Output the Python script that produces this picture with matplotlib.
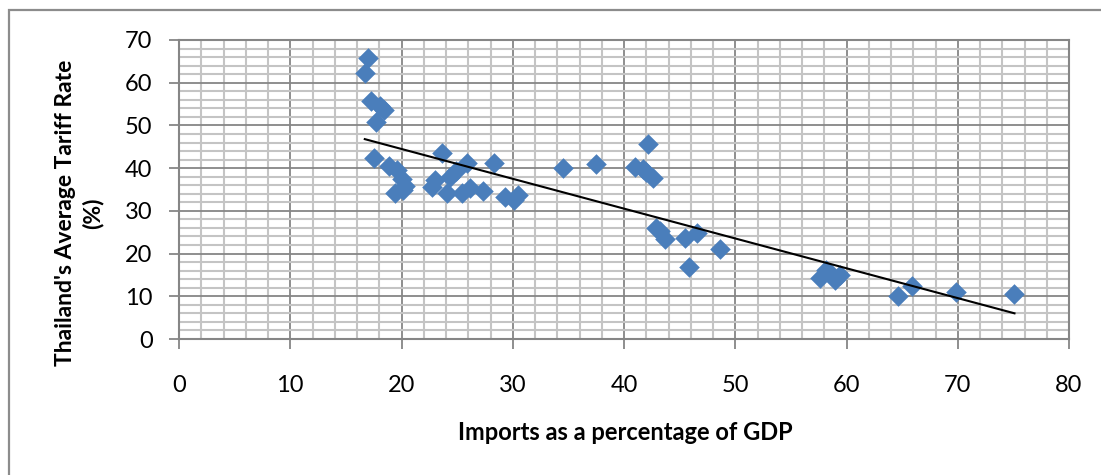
import numpy as np
import matplotlib
matplotlib.use("Agg")
from matplotlib import pyplot as plt
from matplotlib.patches import Rectangle

# imports as % of GDP vs Thailand's average tariff rate
imports_pct = [17.0, 16.7, 17.3, 18.1, 18.4, 17.7, 17.5, 18.9, 19.6, 20.0,
               20.3, 19.4, 20.1, 23.6, 23.0, 22.7, 24.1, 24.4, 24.9, 25.4,
               25.9, 26.2, 27.3, 28.3, 29.3, 30.1, 30.5, 34.5, 37.5, 41.0,
               41.7, 42.0, 42.2, 42.6, 42.9, 43.2, 43.7, 45.5, 46.6, 48.6,
               45.8, 58.2, 57.6, 58.5, 59.0, 59.4, 64.6, 65.9, 69.8, 75.1]
tariff_rate = [65.7, 62.3, 55.8, 54.6, 53.6, 50.9, 42.4, 40.6, 39.5, 37.5,
               35.8, 34.2, 35.0, 43.5, 37.3, 35.5, 34.2, 38.0, 39.3, 34.2,
               41.2, 35.3, 34.6, 41.1, 33.3, 32.6, 33.6, 40.1, 40.9, 40.2,
               39.8, 39.0, 45.7, 37.8, 26.0, 25.2, 23.5, 23.7, 24.8, 21.1,
               16.9, 16.2, 14.3, 15.5, 13.7, 15.0, 10.1, 12.3, 10.9, 10.6]

x_ticks = [0, 10, 20, 30, 40, 50, 60, 70, 80]
y_ticks = [0, 10, 20, 30, 40, 50, 60, 70]

plt.rcParams['font.family'] = ['Lato', 'DejaVu Sans']

fig = plt.figure(figsize=(11.01, 4.75), dpi=100)
ax = fig.add_axes([179 / 1101, 1 - 339 / 475, 890 / 1101, 299 / 475])

# outer chart frame
fig.patches.append(Rectangle((9 / 1101, -0.2), 2.0, 1.2 - 10 / 475,
                             transform=fig.transFigure, fill=False,
                             edgecolor='#8c8c8c', linewidth=1.6))

major_c = '#868686'
minor_c = '#c4c4c4'

ax.set_xlim(0, 80)
ax.set_ylim(0, 70)
ax.set_xticks(x_ticks)
ax.set_yticks(y_ticks)
ax.set_xticks(np.arange(0, 81, 2), minor=True)
ax.set_yticks(np.arange(0, 71, 2), minor=True)
ax.grid(which='minor', color=minor_c, linewidth=1.5, zorder=0)
ax.grid(which='major', color=major_c, linewidth=1.3, zorder=0)
ax.set_axisbelow(True)

for s in ax.spines.values():
    s.set_color(major_c)
    s.set_linewidth(1.5)

ax.tick_params(which='major', direction='out', length=7, width=1.3,
               color=major_c, labelsize=17)
ax.tick_params(axis='x', which='major', pad=19)
ax.tick_params(axis='y', which='major', pad=12)
ax.tick_params(which='minor', length=0)

ax.scatter(imports_pct, tariff_rate, marker='D', s=110, color='#4a7ebb',
           linewidths=0, zorder=3)

# linear trendline over the data range
slope, inter = np.polyfit(imports_pct, tariff_rate, 1)
xs = np.array([min(imports_pct), max(imports_pct)])
ax.plot(xs, slope * xs + inter, color='black', linewidth=1.5, zorder=4)

fig.text(625 / 1101, 1 - 433 / 475, 'Imports as a percentage of GDP',
         ha='center', va='center', fontsize=17, fontweight='bold')
fig.text(79 / 1101, 1 - 213 / 475, "Thailand's Average Tariff Rate\n(%)",
         ha='center', va='center', rotation=90, fontsize=16.5,
         fontweight='bold', linespacing=1.3)

fig.savefig('out.png', dpi=100)
